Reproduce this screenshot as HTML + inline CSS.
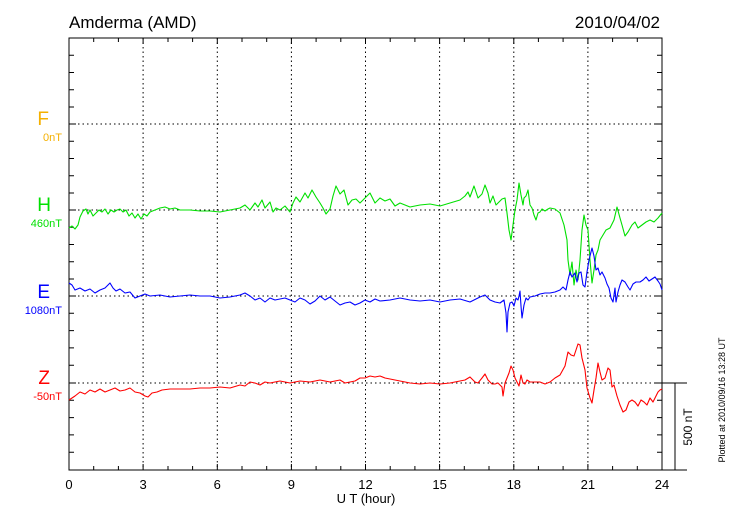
<!DOCTYPE html>
<html><head><meta charset="utf-8"><style>
body{margin:0;background:#fff;}
svg{display:block;font-family:"Liberation Sans",sans-serif;}
</style></head><body>
<svg width="730" height="520" viewBox="0 0 730 520" xmlns="http://www.w3.org/2000/svg">
<rect width="730" height="520" fill="#fff"/>
<text x="69" y="28" font-size="17" fill="#000">Amderma (AMD)</text>
<text x="660" y="28" font-size="17" fill="#000" text-anchor="end">2010/04/02</text>
<g stroke="#000" stroke-width="1" stroke-dasharray="1.5,3" fill="none">
<line x1="143.1" y1="38" x2="143.1" y2="470"/><line x1="217.3" y1="38" x2="217.3" y2="470"/>
<line x1="291.4" y1="38" x2="291.4" y2="470"/><line x1="365.5" y1="38" x2="365.5" y2="470"/>
<line x1="439.6" y1="38" x2="439.6" y2="470"/><line x1="513.8" y1="38" x2="513.8" y2="470"/>
<line x1="587.9" y1="38" x2="587.9" y2="470"/>
<line x1="69" y1="124" x2="662" y2="124"/><line x1="69" y1="210" x2="662" y2="210"/>
<line x1="69" y1="296" x2="662" y2="296"/><line x1="69" y1="383" x2="662" y2="383"/>
</g>
<g stroke="#000" stroke-width="1" fill="none">
<rect x="69" y="38" width="593" height="432"/>
<line x1="662" y1="470" x2="687" y2="470"/>
<line x1="662" y1="383" x2="687" y2="383"/>
<line x1="675" y1="383" x2="675" y2="470"/>
<path d="M93.7,38v4M118.4,38v4M168,38v4M192.6,38v4M242,38v4M266.7,38v4M316.1,38v4M340.8,38v4M390.2,38v4M414.9,38v4M464.3,38v4M489,38v4M538.4,38v4M563.1,38v4M612.6,38v4M637.3,38v4
M93.7,470v-4M118.4,470v-4M168,470v-4M192.6,470v-4M242,470v-4M266.7,470v-4M316.1,470v-4M340.8,470v-4M390.2,470v-4M414.9,470v-4M464.3,470v-4M489,470v-4M538.4,470v-4M563.1,470v-4M612.6,470v-4M637.3,470v-4
M143.1,470v-6M217.3,470v-6M291.4,470v-6M365.5,470v-6M439.6,470v-6M513.8,470v-6M587.9,470v-6M143.1,38v6M217.3,38v6M291.4,38v6M365.5,38v6M439.6,38v6M513.8,38v6M587.9,38v6"/>
<path d="M69,55.3h5M69,72.5h5M69,89.8h5M69,107h5M69,124h7M69,141.3h5M69,158.5h5M69,175.8h5M69,193h5M69,210h7M69,227.3h5M69,244.5h5M69,261.8h5M69,279h5M69,296h7M69,313.3h5M69,330.6h5M69,347.9h5M69,365.2h5M69,383h7M69,400.3h5M69,417.6h5M69,434.9h5M69,452.2h5
M662,55.3h-5M662,72.5h-5M662,89.8h-5M662,107h-5M662,124h-7M662,141.3h-5M662,158.5h-5M662,175.8h-5M662,193h-5M662,210h-7M662,227.3h-5M662,244.5h-5M662,261.8h-5M662,279h-5M662,296h-7M662,313.3h-5M662,330.6h-5M662,347.9h-5M662,365.2h-5M662,383h-7M662,400.3h-5M662,417.6h-5M662,434.9h-5M662,452.2h-5"/>
</g>
<g font-size="13" fill="#000" text-anchor="middle">
<text x="69" y="489">0</text><text x="143.1" y="489">3</text><text x="217.3" y="489">6</text>
<text x="291.4" y="489">9</text><text x="365.5" y="489">12</text><text x="439.6" y="489">15</text>
<text x="513.8" y="489">18</text><text x="587.9" y="489">21</text><text x="662" y="489">24</text>
<text x="366" y="503">U T (hour)</text>
</g>
<text transform="translate(692,427) rotate(-90)" font-size="12" text-anchor="middle">500 nT</text>
<text transform="translate(725,400) rotate(-90)" font-size="9" text-anchor="middle">Plotted at 2010/09/16 13:28 UT</text>
<g text-anchor="end">
<text x="49" y="125" font-size="19" fill="#f5b000">F</text>
<text x="62" y="141" font-size="11" fill="#f5b000">0nT</text>
<text x="51" y="211" font-size="19" fill="#00e000">H</text>
<text x="62" y="227" font-size="11" fill="#00e000">460nT</text>
<text x="50" y="298" font-size="19" fill="#0000ff">E</text>
<text x="62" y="314" font-size="11" fill="#0000ff">1080nT</text>
<text x="50" y="384" font-size="19" fill="#ff0000">Z</text>
<text x="62" y="400" font-size="11" fill="#ff0000">-50nT</text>
</g>
<g fill="none" stroke-width="1.1" stroke-linejoin="round">
<polyline stroke="#00e000" points="69,228 72,226 75,229 78,225 80,217 83,211 86,209 88,214 90,210 93,216 96,213 99,210 102,212 105,209 108,214 111,210 114,212 117,210 120,209 123,212 126,210 129,216 132,213 135,218 138,214 141,219 144,214 147,216 150,212 155,210 160,208 165,207 170,209 175,208 180,210 190,210 200,211 210,211 220,212 230,210 240,208 245,205 250,210 255,203 258,207 262,200 265,208 270,202 273,212 276,208 280,210 285,206 290,212 293,203 296,197 300,202 305,193 308,198 312,190 316,197 320,203 323,208 326,214 330,209 333,196 336,186 340,194 344,190 348,205 352,200 356,199 360,203 365,198 370,193 375,203 380,198 385,201 390,199 395,206 400,203 405,205 410,207 420,205 430,204 440,206 450,203 460,200 465,196 468,192 470,197 474,186 478,198 482,194 485,185 488,193 490,203 493,196 496,205 499,202 502,199 505,198 507,213 509,230 511,240 513,225 515,210 517,200 519,183 521,195 523,205 524,198 526,196 528,190 530,205 532,208 534,215 536,220 538,213 540,212 542,209 545,211 548,209 550,208 555,209 560,213 564,225 567,240 568,260 570,275 572,262 574,285 576,270 578,280 580,260 582,230 584,215 586,225 588,230 590,260 592,283 594,270 596,255 598,250 600,240 603,235 606,230 610,228 614,220 617,207 620,218 622,225 625,236 628,232 632,225 635,222 638,228 642,225 646,222 650,220 654,222 658,218 662,213"/>
<polyline stroke="#0000ff" points="69,283 72,285 75,290 80,288 85,291 90,289 95,293 100,290 105,288 110,283 113,288 116,291 120,289 125,293 130,292 135,298 140,296 145,294 150,296 160,295 170,297 180,296 190,295 200,296 210,296 220,298 230,297 240,295 245,293 250,296 255,300 260,298 265,302 270,298 275,300 280,299 285,298 290,300 295,302 300,298 305,300 310,304 315,301 320,296 325,300 330,297 335,301 340,305 345,303 350,302 355,305 360,303 365,300 370,302 375,299 380,301 390,300 400,298 410,300 420,301 430,300 440,302 450,300 460,299 470,302 480,297 485,295 490,300 495,302 500,303 504,300 506,313 507,332 508,312 510,303 512,302 514,306 516,298 518,300 519,296 520,291 521,306 522,318 524,305 526,298 528,300 530,297 535,296 540,294 545,293 550,293 555,292 560,290 563,287 566,290 568,280 570,272 572,277 575,273 577,282 579,273 581,272 583,285 585,287 587,272 589,260 592,248 594,256 596,270 598,268 600,275 602,272 605,278 607,284 609,288 611,298 613,302 615,288 616,302 618,292 620,285 622,280 625,282 628,287 630,290 633,284 636,282 640,282 643,280 646,277 649,281 652,279 655,277 658,281 660,284 662,290"/>
<polyline stroke="#ff0000" points="69,400 72,398 75,396 80,392 85,394 90,390 95,392 100,389 105,392 110,390 115,388 120,391 125,390 130,388 135,392 140,393 145,396 148,397 152,393 157,392 162,390 170,389 180,389 190,389 200,388 210,388 220,387 230,388 240,385 245,386 250,382 255,383 260,385 265,382 270,383 280,381 290,383 300,381 310,382 320,380 330,382 340,380 345,383 350,382 355,381 360,378 365,378 370,376 375,377 380,376 385,378 390,379 400,381 410,383 420,384 430,383 440,384 450,383 460,381 465,380 470,377 475,382 478,383 482,378 485,374 488,380 492,384 495,384 498,383 500,385 502,387 503,396 505,383 507,378 509,373 511,366 513,370 515,378 517,382 519,386 521,375 523,383 525,384 527,380 530,382 535,382 540,382 545,384 550,382 555,378 560,375 565,366 568,352 571,355 574,356 576,350 578,344 580,345 582,358 585,370 587,388 590,398 592,403 594,390 596,378 598,363 600,372 602,380 605,378 608,368 610,370 612,387 614,385 617,396 620,405 623,412 626,410 629,402 632,400 635,402 638,406 641,400 644,402 647,405 650,398 653,402 656,396 658,392 660,390 662,389"/>
</g>
</svg>
</body></html>
